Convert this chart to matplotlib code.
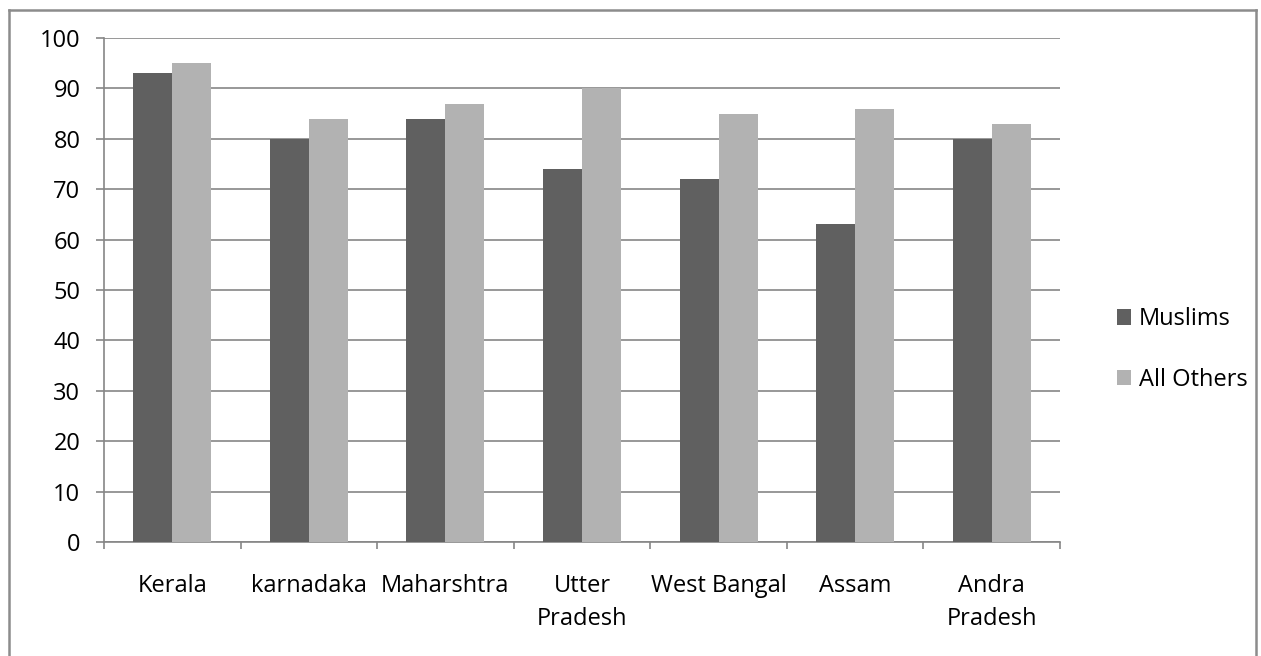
import matplotlib as mpl
mpl.use('agg')
mpl.rcParams['font.family'] = ['Open Sans', 'DejaVu Sans']
mpl.rcParams['font.size'] = 17

import matplotlib.pyplot as plt
from matplotlib.lines import Line2D
import numpy as np

states = ['Kerala', 'karnadaka', 'Maharshtra', 'Utter\nPradesh',
          'West Bangal', 'Assam', 'Andra\nPradesh']
muslims = [93, 80, 84, 74, 72, 63, 80]
others = [95, 84, 87, 90, 85, 86, 83]
series_names = ['Muslims', 'All Others']
y_ticks = list(range(0, 101, 10))

GRID = '#868686'


def main():
    fig = plt.figure(figsize=(12.61, 6.56), dpi=100)
    ax = fig.add_axes([104 / 1261, 1 - 542 / 656, 956 / 1261, 504 / 656])

    x = np.arange(len(states))
    w = 1 / 3.5
    ax.bar(x - w / 2, muslims, width=w, color='#606060', label=series_names[0], zorder=3)
    ax.bar(x + w / 2, others, width=w, color='#b2b2b2', label=series_names[1], zorder=3)

    ax.set_xlim(-0.5, len(states) - 0.5)
    ax.set_ylim(0, 100)
    ax.set_yticks(y_ticks)
    ax.yaxis.grid(True, color=GRID, linewidth=1.2)
    ax.set_axisbelow(True)

    # category boundaries get tick marks, labels sit at the centres
    ax.set_xticks(np.arange(len(states) + 1) - 0.5)
    ax.set_xticklabels([])
    ax.set_xticks(x, minor=True)
    ax.set_xticklabels(states, minor=True, linespacing=1.5)
    ax.tick_params(axis='x', which='major', length=5, width=1.2, color=GRID, direction='out')
    ax.tick_params(axis='x', which='minor', length=0, pad=23)
    ax.tick_params(axis='y', length=6, width=1.2, color=GRID, pad=11)

    for side in ['top', 'right']:
        ax.spines[side].set_visible(False)
    for side in ['left', 'bottom']:
        ax.spines[side].set_color(GRID)
        ax.spines[side].set_linewidth(1.2)

    ax.legend(loc='center left', bbox_to_anchor=(1.037, 0.382), frameon=False,
              handlelength=0.62, handleheight=0.62, handletextpad=0.33,
              labelspacing=1.55)

    # outer chart border (bottom edge falls outside the image)
    fw, fh = 1261, 656
    left, right, top = 9 / fw, 1256 / fw, 1 - 10 / fh
    for xs, ys in [([left, left], [0, top]), ([right, right], [0, top]),
                   ([left, right], [top, top])]:
        fig.add_artist(Line2D(xs, ys, color='#8c8c8c', linewidth=1.8))

    fig.savefig('out.png', dpi=100)


if __name__ == '__main__':
    main()
